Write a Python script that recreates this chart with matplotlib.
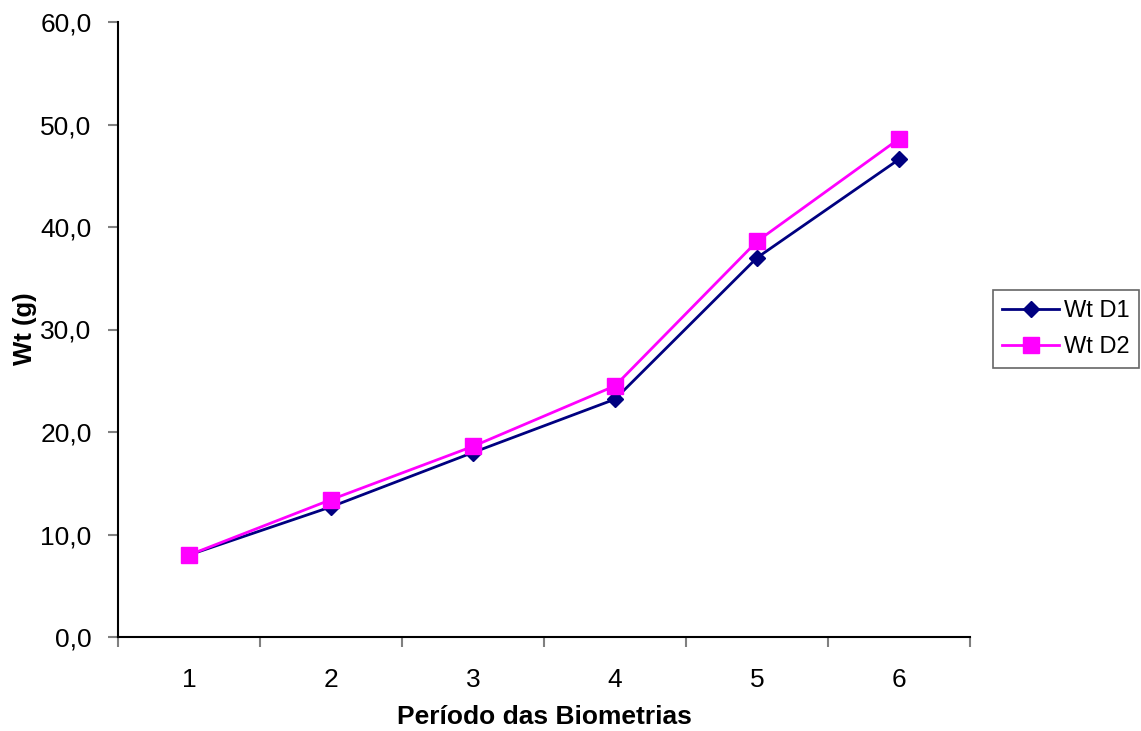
import matplotlib
matplotlib.use("Agg")
import matplotlib.pyplot as plt
from matplotlib.ticker import FuncFormatter, MultipleLocator, FixedLocator

plt.rcParams['font.family'] = ['Liberation Sans', 'DejaVu Sans']

categories = [1, 2, 3, 4, 5, 6]
wt_d1 = [8.0, 12.7, 18.0, 23.2, 37.0, 46.6]
wt_d2 = [8.0, 13.4, 18.6, 24.5, 38.6, 48.6]
series_labels = ["Wt D1", "Wt D2"]

fig = plt.figure(figsize=(11.41, 7.31), dpi=100)
ax = fig.add_axes([118/1141, 1 - 637/731, (970-118)/1141, (637-22)/731])

x = list(range(1, len(categories) + 1))
ax.plot(x, wt_d1, color='#000080', lw=2, marker='D', ms=8, label=series_labels[0], zorder=2)
ax.plot(x, wt_d2, color='#FF00FF', lw=2, marker='s', ms=11, label=series_labels[1], zorder=3)

ax.set_xlim(0.5, len(categories) + 0.5)
ax.set_ylim(0, 60)
ax.yaxis.set_major_locator(MultipleLocator(10))
ax.yaxis.set_major_formatter(FuncFormatter(lambda v, p: f"{v:.1f}".replace('.', ',')))
ax.xaxis.set_major_locator(FixedLocator(x))
ax.set_xticklabels([str(c) for c in categories])
ax.xaxis.set_minor_locator(FixedLocator([i + 0.5 for i in range(0, len(categories) + 1)]))
ax.tick_params(axis='x', which='major', length=0, labelsize=19, pad=22)
ax.tick_params(axis='x', which='minor', length=7, width=1.5, color='#808080')
ax.tick_params(axis='y', which='major', length=7, width=1.5, color='#808080', labelsize=19, pad=12)

for s in ['top', 'right']:
    ax.spines[s].set_visible(False)
for s in ['left', 'bottom']:
    ax.spines[s].set_linewidth(1.5)
    ax.spines[s].set_color('black')

ax.set_xlabel("Período das Biometrias", fontsize=19, fontweight='bold', labelpad=10)
ax.set_ylabel("Wt (g)", fontsize=18.5, fontweight='bold', va='center')
ax.yaxis.set_label_coords(25/1141, 1 - 329/731, transform=fig.transFigure)

leg = ax.legend(loc='center left', bbox_to_anchor=(993/1141, 1 - 329/731), bbox_transform=fig.transFigure,
                fontsize=17, frameon=True, fancybox=False, edgecolor='#404040', borderpad=0.4,
                handlelength=2.4, labelspacing=0.6, handletextpad=0.2, borderaxespad=0)
leg.get_frame().set_linewidth(1.2)

fig.savefig("out.png", dpi=100)
